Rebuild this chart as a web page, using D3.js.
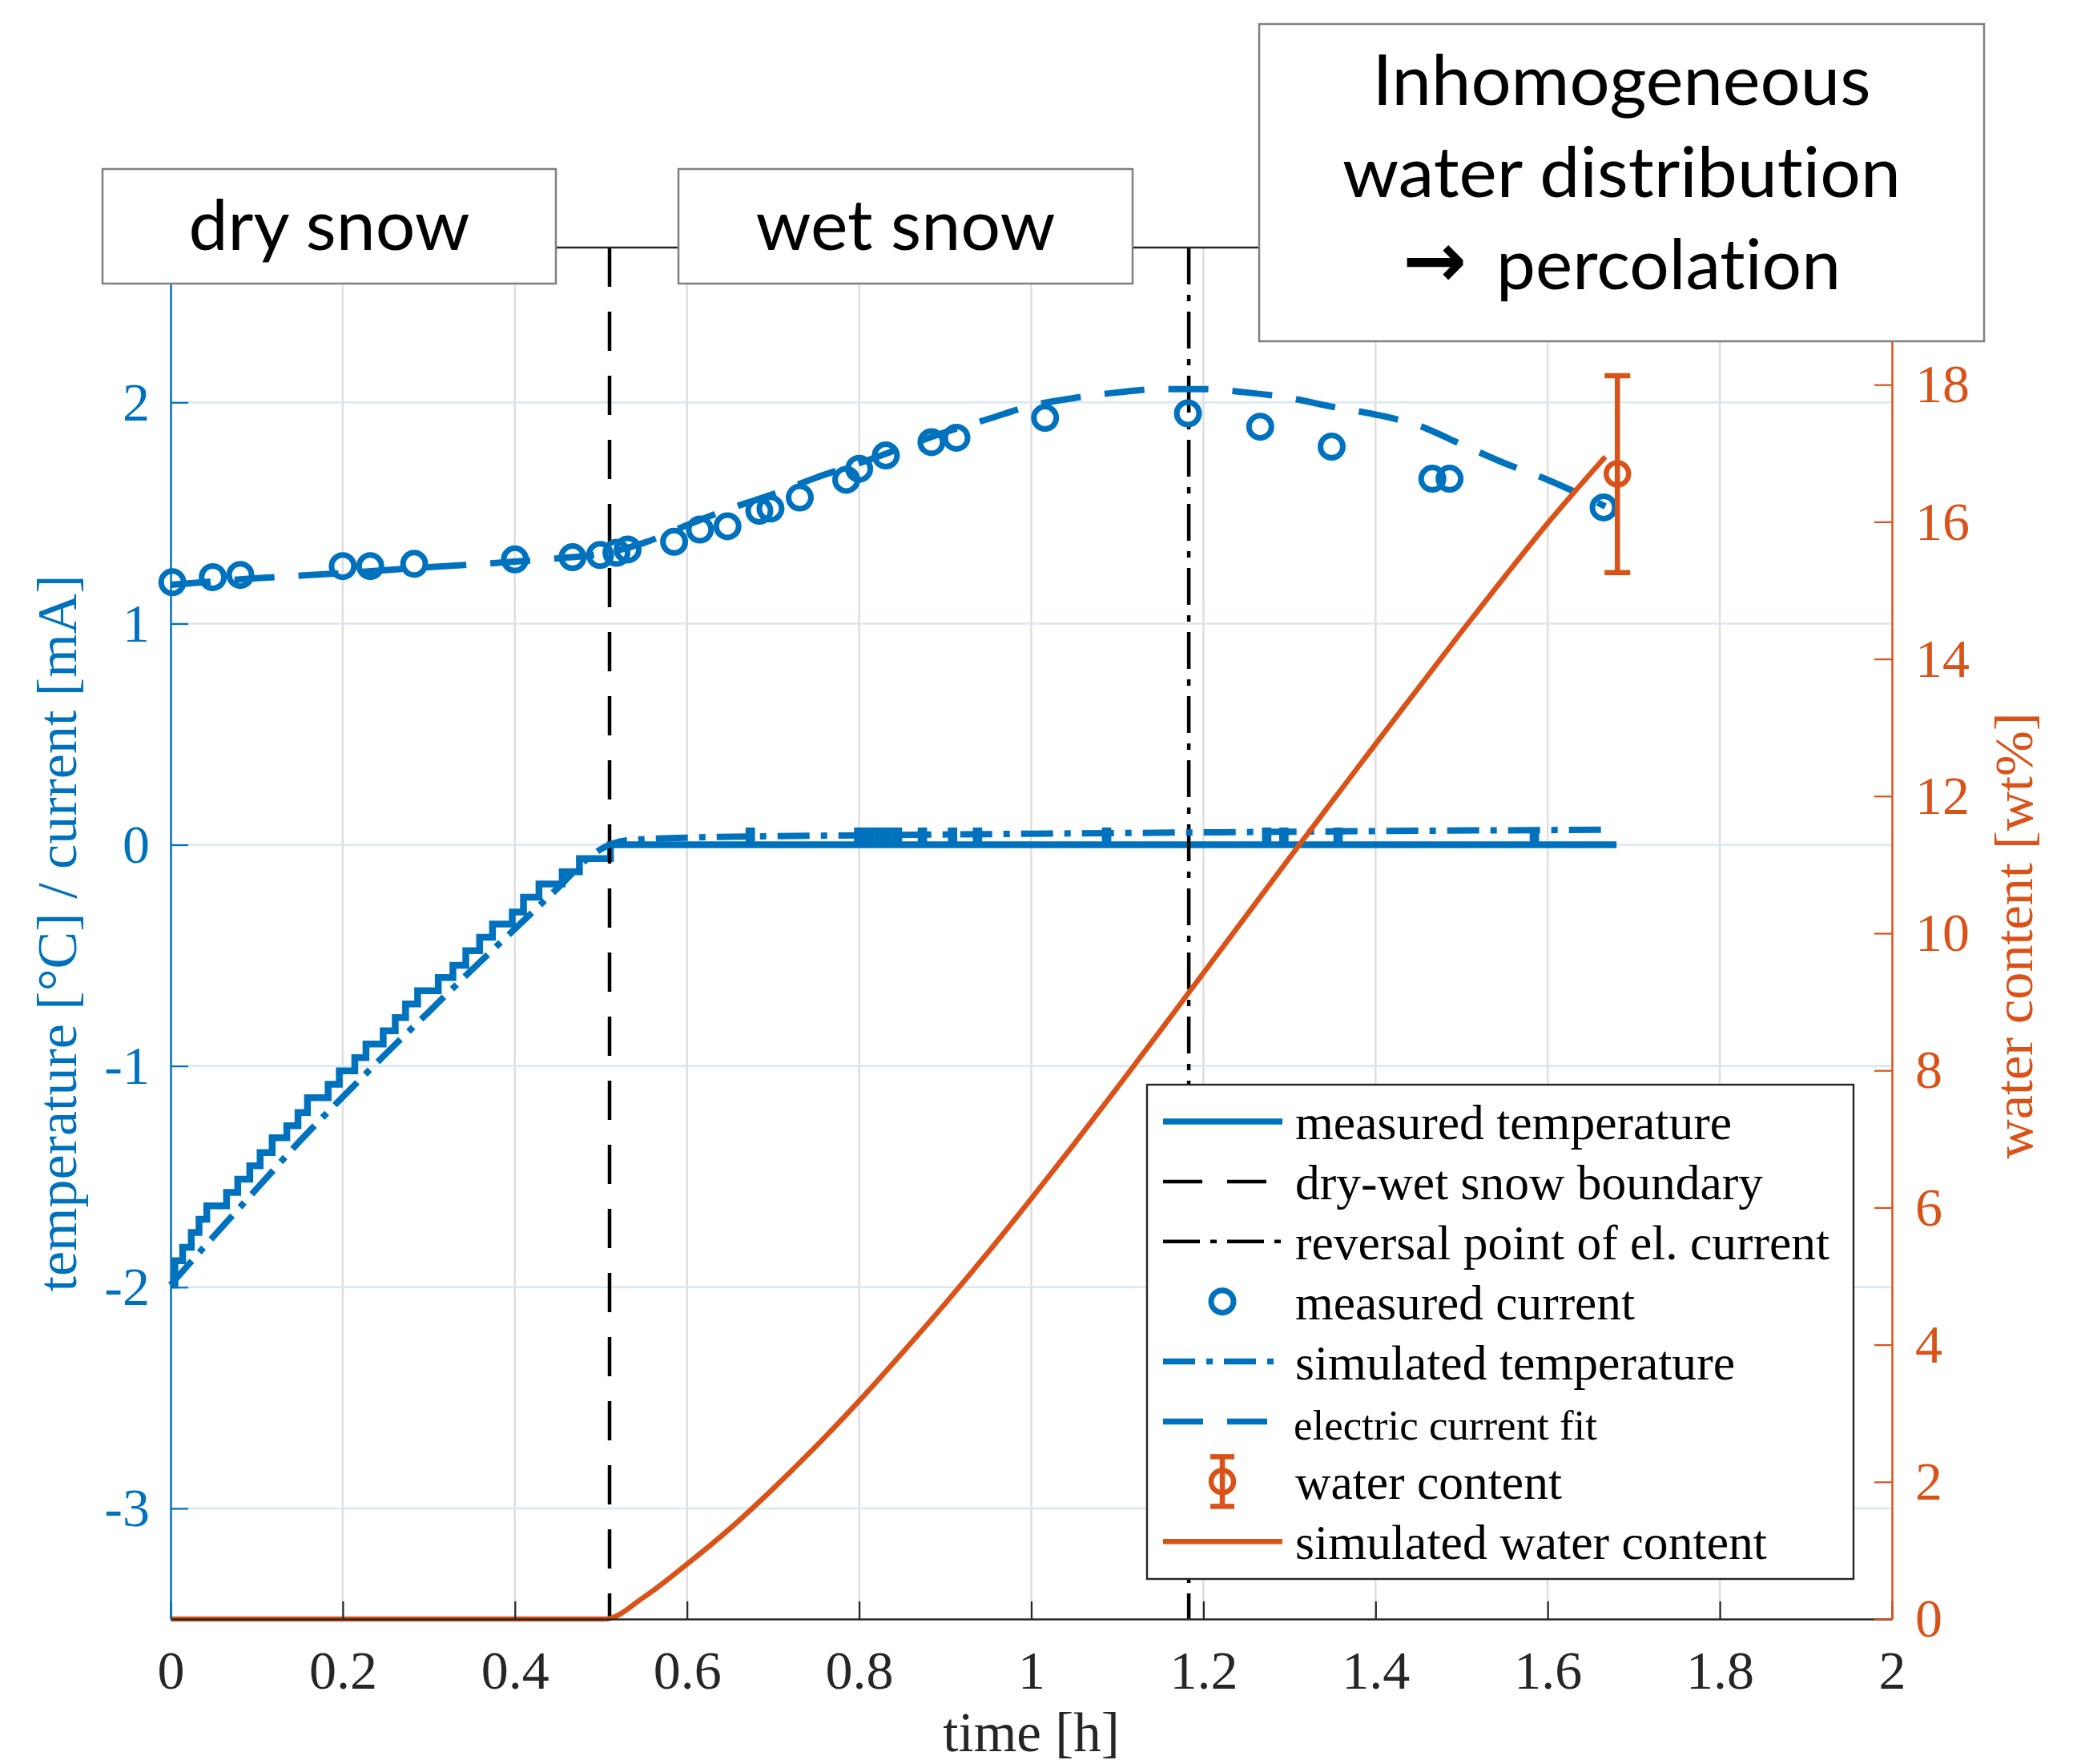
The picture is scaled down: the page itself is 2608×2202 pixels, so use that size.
<!DOCTYPE html>
<html>
<head>
<meta charset="utf-8">
<title>Snow temperature, current and water content</title>
<script src="https://d3js.org/d3.v7.min.js"></script>
<style>
  body { margin: 0; background: #fff; }
  text { font-variant-ligatures: none; font-feature-settings: "liga" 0, "clig" 0; }
</style>
</head>
<body>
<div id="chart"></div>
<script>

// ---------- data ----------
const xTicks = [0, 0.2, 0.4, 0.6, 0.8, 1, 1.2, 1.4, 1.6, 1.8, 2];
const xTickLabels = ["0", "0.2", "0.4", "0.6", "0.8", "1", "1.2", "1.4", "1.6", "1.8", "2"];
const leftTicks = [-3, -2, -1, 0, 1, 2];
const leftTickLabels = ["-3", "-2", "-1", "0", "1", "2"];
const rightTicks = [0, 2, 4, 6, 8, 10, 12, 14, 16, 18, 20];
const rightTickLabels = ["0", "2", "4", "6", "8", "10", "12", "14", "16", "18", "20"];

// measured temperature (sensor steps), then spikes on the 0 plateau
const tempStepTimes = [0, 0.005, 0.014, 0.024, 0.033, 0.042, 0.065, 0.078, 0.092, 0.104, 0.118,
  0.135, 0.148, 0.159, 0.183, 0.196, 0.214, 0.227, 0.247, 0.261, 0.273, 0.287, 0.311, 0.328,
  0.343, 0.359, 0.374, 0.397, 0.410, 0.428, 0.455, 0.475, 0.511];
const tempStepValues = [-1.99, -1.88, -1.82, -1.753, -1.693, -1.632, -1.572, -1.512, -1.451, -1.391,
  -1.324, -1.27, -1.21, -1.143, -1.083, -1.022, -0.962, -0.901, -0.841, -0.781, -0.72, -0.66, -0.6,
  -0.545, -0.479, -0.418, -0.358, -0.304, -0.237, -0.177, -0.122, -0.062, 0];
const tempSpikeTimes = [0.672, 0.798, 0.806, 0.811, 0.822, 0.832, 0.843, 0.872, 0.907, 0.936, 1.086, 1.272, 1.292, 1.355, 1.583];
const tempSpikeValues = [0.0625, 0.0625, 0.0625, 0.0625, 0.0625, 0.0625, 0.0625, 0.0625, 0.0625, 0.0625, 0.0625, 0.0625, 0.0625, 0.0625, 0.0625];
const tempEndTime = 1.68;

// simulated temperature
const simTempTimes = [0, 0.05, 0.1, 0.15, 0.2, 0.25, 0.3, 0.35, 0.4, 0.45, 0.49, 0.51, 0.53, 0.6, 0.8, 1.0, 1.2, 1.4, 1.668];
const simTempValues = [-1.99, -1.77, -1.555, -1.34, -1.14, -0.945, -0.755, -0.565, -0.38, -0.195, -0.045, 0.0, 0.02, 0.032, 0.043, 0.05, 0.056, 0.062, 0.068];

// measured electric current [mA]
const currentTimes = [0.002, 0.049, 0.081, 0.200, 0.232, 0.283, 0.400, 0.467, 0.499, 0.518, 0.531, 0.585, 0.615,
  0.647, 0.684, 0.697, 0.731, 0.785, 0.800, 0.831, 0.884, 0.913, 1.016, 1.182, 1.266, 1.349, 1.466, 1.486, 1.665];
const currentValues = [1.187, 1.21, 1.22, 1.26, 1.26, 1.27, 1.29, 1.30, 1.31, 1.32, 1.335, 1.37, 1.425,
  1.44, 1.51, 1.52, 1.57, 1.65, 1.70, 1.76, 1.82, 1.84, 1.93, 1.95, 1.89, 1.80, 1.655, 1.655, 1.525];

// electric current fit
const fitTimes = [0, 0.1, 0.2, 0.3, 0.4, 0.45, 0.5, 0.55, 0.6, 0.65, 0.7, 0.75, 0.8, 0.85, 0.9, 0.95,
  1.0, 1.05, 1.1, 1.15, 1.2, 1.25, 1.3, 1.35, 1.4, 1.45, 1.5, 1.55, 1.6, 1.667];
const fitValues = [1.175, 1.205, 1.228, 1.255, 1.28, 1.295, 1.315, 1.365, 1.445, 1.52, 1.585, 1.66, 1.725, 1.795, 1.865, 1.925,
  1.985, 2.02, 2.045, 2.06, 2.06, 2.045, 2.02, 1.98, 1.945, 1.895, 1.81, 1.725, 1.65, 1.53];

// simulated water content [wt%]
const waterTimes = [0, 0.505, 0.55, 0.6, 0.65, 0.7, 0.75, 0.8, 0.85, 0.9, 0.95, 1.0, 1.05, 1.1, 1.15,
  1.2, 1.25, 1.3, 1.35, 1.4, 1.45, 1.5, 1.55, 1.6, 1.667];
const waterValues = [0, 0, 0.32, 0.8, 1.32, 1.9, 2.52, 3.18, 3.88, 4.6, 5.35, 6.13, 6.93, 7.75, 8.58,
  9.42, 10.26, 11.1, 11.93, 12.76, 13.58, 14.4, 15.2, 15.98, 16.95];

// measured water content with error bar
const waterMeasTimes = [1.681];
const waterMeasValues = [16.7];
const waterMeasLow = [15.26];
const waterMeasHigh = [18.13];

// dry-wet boundary, reversal point of el. current
const markerTimes = [0.51, 1.183];

const legendLabels = ["measured temperature", "dry-wet snow boundary", "reversal point of el. current",
  "measured current", "simulated temperature", "electric current fit", "water content", "simulated water content"];

const boxLabels = [["dry snow"], ["wet snow"], ["Inhomogeneous", "water distribution", "percolation"]];
const arrowGlyph = "\u2192";

// ---------- layout ----------
const blue = "#0072BD", orange = "#D95319", ink = "#262626";
const serif = "'Liberation Serif', 'Times New Roman', serif";
const sans = "Lato, 'Open Sans', 'DejaVu Sans', sans-serif";

const W = 2608, H = 2202;
const margin = {top: 309, right: 246, bottom: 181, left: 213};
const w = W - margin.left - margin.right;
const h = H - margin.top - margin.bottom;

const svg = d3.select("#chart").append("svg")
    .attr("width", W)
    .attr("height", H)
    .style("background", "#fff");

const g = svg.append("g")
    .attr("transform", "translate(" + margin.left + "," + margin.top + ")");

const x = d3.scaleLinear().domain([0, 2]).range([0, w]);
const yL = d3.scaleLinear().domain([-3.5, 2.7]).range([h, 0]);
const yR = d3.scaleLinear().domain([0, 20]).range([h, 0]);

// grid
g.append("g").selectAll("line")
    .data(xTicks.filter(d => d > 0 && d < 2))
    .join("line")
    .attr("x1", d => x(d)).attr("x2", d => x(d))
    .attr("y1", 0).attr("y2", h)
    .attr("stroke", "#dedede").attr("stroke-width", 2.5);

g.append("g").selectAll("line")
    .data(leftTicks)
    .join("line")
    .attr("x1", 0).attr("x2", w)
    .attr("y1", d => yL(d)).attr("y2", d => yL(d))
    .attr("stroke", "#d8e8f4").attr("stroke-width", 2.5);

// measured temperature
let tempPts = tempStepTimes.map((t, i) => [t, tempStepValues[i]]);
tempSpikeTimes.forEach((t, i) => {
    tempPts.push([t, tempSpikeValues[i]]);
    tempPts.push([t + 0.003, 0]);
});
tempPts.push([tempEndTime, 0]);

g.append("path")
    .datum(tempPts)
    .attr("fill", "none")
    .attr("stroke", blue)
    .attr("stroke-width", 8.5)
    .attr("d", d3.line().x(d => x(d[0])).y(d => yL(d[1])).curve(d3.curveStepAfter));

// black vertical markers
g.append("line")
    .attr("x1", x(markerTimes[0])).attr("x2", x(markerTimes[0]))
    .attr("y1", 0).attr("y2", h)
    .attr("stroke", "#000").attr("stroke-width", 4.5)
    .attr("stroke-dasharray", "49,31");

g.append("line")
    .attr("x1", x(markerTimes[1])).attr("x2", x(markerTimes[1]))
    .attr("y1", 0).attr("y2", h)
    .attr("stroke", "#000").attr("stroke-width", 4.5)
    .attr("stroke-dasharray", "46,13,8,13");

// measured current
g.append("g").selectAll("circle")
    .data(currentTimes)
    .join("circle")
    .attr("cx", d => x(d))
    .attr("cy", (d, i) => yL(currentValues[i]))
    .attr("r", 14)
    .attr("fill", "none")
    .attr("stroke", blue)
    .attr("stroke-width", 7);

// simulated temperature
g.append("path")
    .datum(simTempTimes.map((t, i) => [t, simTempValues[i]]))
    .attr("fill", "none")
    .attr("stroke", blue)
    .attr("stroke-width", 8)
    .attr("stroke-dasharray", "40,14,8,14")
    .attr("d", d3.line().x(d => x(d[0])).y(d => yL(d[1])).curve(d3.curveMonotoneX));

// electric current fit
g.append("path")
    .datum(fitTimes.map((t, i) => [t, fitValues[i]]))
    .attr("fill", "none")
    .attr("stroke", blue)
    .attr("stroke-width", 8)
    .attr("stroke-dasharray", "50,30")
    .attr("d", d3.line().x(d => x(d[0])).y(d => yL(d[1])).curve(d3.curveMonotoneX));

// water content error bar
const eb = g.append("g").selectAll("g")
    .data(waterMeasTimes)
    .join("g");
eb.append("line")
    .attr("x1", d => x(d)).attr("x2", d => x(d))
    .attr("y1", (d, i) => yR(waterMeasLow[i])).attr("y2", (d, i) => yR(waterMeasHigh[i]))
    .attr("stroke", orange).attr("stroke-width", 6.5);
eb.append("line")
    .attr("x1", d => x(d) - 16).attr("x2", d => x(d) + 16)
    .attr("y1", (d, i) => yR(waterMeasLow[i])).attr("y2", (d, i) => yR(waterMeasLow[i]))
    .attr("stroke", orange).attr("stroke-width", 6.5);
eb.append("line")
    .attr("x1", d => x(d) - 16).attr("x2", d => x(d) + 16)
    .attr("y1", (d, i) => yR(waterMeasHigh[i])).attr("y2", (d, i) => yR(waterMeasHigh[i]))
    .attr("stroke", orange).attr("stroke-width", 6.5);
eb.append("circle")
    .attr("cx", d => x(d)).attr("cy", (d, i) => yR(waterMeasValues[i]))
    .attr("r", 14)
    .attr("fill", "none").attr("stroke", orange).attr("stroke-width", 6.5);

// simulated water content
g.append("path")
    .datum(waterTimes.map((t, i) => [t, waterValues[i]]))
    .attr("fill", "none")
    .attr("stroke", orange)
    .attr("stroke-width", 6.5)
    .attr("d", d3.line().x(d => x(d[0])).y(d => yR(d[1])).curve(d3.curveMonotoneX));

// axes
function styleAxis(sel, color) {
    sel.select(".domain").attr("stroke", color).attr("stroke-width", 2.5);
    sel.selectAll(".tick line").attr("stroke", color).attr("stroke-width", 2.2);
    sel.selectAll(".tick text")
        .attr("fill", color)
        .attr("font-family", serif)
        .attr("font-size", 68);
}

let xAxis = d3.axisBottom(x)
    .tickValues(xTicks)
    .tickFormat((d, i) => xTickLabels[i])
    .tickSizeInner(-22).tickSizeOuter(0).tickPadding(39);

g.append("g")
    .attr("transform", "translate(0," + h + ")")
    .call(xAxis)
    .call(s => styleAxis(s, ink));

let yAxisLeft = d3.axisLeft(yL)
    .tickValues(leftTicks)
    .tickFormat((d, i) => leftTickLabels[i])
    .tickSizeInner(-22).tickSizeOuter(0).tickPadding(26);

g.append("g")
    .call(yAxisLeft)
    .call(s => styleAxis(s, blue));

let yAxisRight = d3.axisRight(yR)
    .tickValues(rightTicks)
    .tickFormat((d, i) => rightTickLabels[i])
    .tickSizeInner(-22).tickSizeOuter(0).tickPadding(29);

g.append("g")
    .attr("transform", "translate(" + w + ",0)")
    .call(yAxisRight)
    .call(s => styleAxis(s, orange));

// top border of the box
g.append("line")
    .attr("x1", 0).attr("x2", w).attr("y1", 0).attr("y2", 0)
    .attr("stroke", ink).attr("stroke-width", 2.5);

// axis labels
svg.append("text")
    .attr("x", margin.left + w / 2).attr("y", 2186)
    .attr("text-anchor", "middle")
    .attr("font-family", serif).attr("font-size", 69)
    .attr("fill", ink)
    .text("time [h]");

svg.append("text")
    .attr("transform", "translate(95," + (margin.top + yL(-0.4)) + ") rotate(-90)")
    .attr("text-anchor", "middle")
    .attr("font-family", serif).attr("font-size", 70)
    .attr("textLength", 895).attr("lengthAdjust", "spacingAndGlyphs")
    .attr("fill", blue)
    .text("temperature [\u00B0C] / current [mA]");

svg.append("text")
    .attr("transform", "translate(2537,1168) rotate(-90)")
    .attr("text-anchor", "middle")
    .attr("font-family", serif).attr("font-size", 68)
    .attr("textLength", 557).attr("lengthAdjust", "spacingAndGlyphs")
    .attr("fill", orange)
    .text("water content [wt%]");

// legend
const leg = svg.append("g").attr("transform", "translate(1432,1354)");
leg.append("rect")
    .attr("width", 882).attr("height", 617)
    .attr("fill", "#fff").attr("stroke", ink).attr("stroke-width", 2.4);

const legStyles = [
    {kind: "line", color: blue, width: 7.5, dash: null},
    {kind: "line", color: "#000", width: 4.5, dash: "49,31"},
    {kind: "line", color: "#000", width: 4.5, dash: "46,13,8,13"},
    {kind: "circle", color: blue},
    {kind: "line", color: blue, width: 7.5, dash: "40,14,8,14"},
    {kind: "line", color: blue, width: 7.5, dash: "50,30"},
    {kind: "errorbar", color: orange},
    {kind: "line", color: orange, width: 6.5, dash: null}
];
const legTextLen = [545, 584, 667, 424, 549, 379, 333, 589];
const rowStep = 74.9, row0 = 46;

legendLabels.forEach((label, i) => {
    const cy = row0 + i * rowStep;
    const st = legStyles[i];
    if (st.kind === "line") {
        leg.append("line")
            .attr("x1", 20).attr("x2", 169).attr("y1", cy).attr("y2", cy)
            .attr("stroke", st.color).attr("stroke-width", st.width)
            .attr("stroke-dasharray", st.dash);
    } else if (st.kind === "circle") {
        leg.append("circle")
            .attr("cx", 94).attr("cy", cy).attr("r", 14)
            .attr("fill", "none").attr("stroke", st.color).attr("stroke-width", 7);
    } else {
        leg.append("line").attr("x1", 94).attr("x2", 94).attr("y1", cy - 31).attr("y2", cy + 31)
            .attr("stroke", st.color).attr("stroke-width", 6.5);
        leg.append("line").attr("x1", 79).attr("x2", 109).attr("y1", cy - 31).attr("y2", cy - 31)
            .attr("stroke", st.color).attr("stroke-width", 6.5);
        leg.append("line").attr("x1", 79).attr("x2", 109).attr("y1", cy + 31).attr("y2", cy + 31)
            .attr("stroke", st.color).attr("stroke-width", 6.5);
        leg.append("circle").attr("cx", 94).attr("cy", cy).attr("r", 14)
            .attr("fill", "none").attr("stroke", st.color).attr("stroke-width", 6.5);
    }
    leg.append("text")
        .attr("x", i === 5 ? 183 : 185)
        .attr("y", cy + 22)
        .attr("font-family", serif)
        .attr("font-size", i === 5 ? 53 : 62)
        .attr("textLength", legTextLen[i]).attr("lengthAdjust", "spacingAndGlyphs")
        .attr("fill", "#000")
        .text(label);
});

// annotation boxes
const boxGeom = [
    {x: 128, y: 211, w: 566, h: 143, base: [312], len: [351]},
    {x: 847, y: 211, w: 567, h: 143, base: [312], len: [374]},
    {x: 1572, y: 30, w: 905, h: 396, base: [131, 246, 361], len: [622, 697, 430]}
];

boxGeom.forEach((b, i) => {
    svg.append("rect")
        .attr("x", b.x).attr("y", b.y).attr("width", b.w).attr("height", b.h)
        .attr("fill", "#fff").attr("stroke", "#7f7f7f").attr("stroke-width", 2.5);
    boxLabels[i].forEach((txt, j) => {
        const isArrowLine = (i === 2 && j === 2);
        svg.append("text")
            .attr("x", isArrowLine ? 1868 : b.x + b.w / 2)
            .attr("y", b.base[j])
            .attr("text-anchor", isArrowLine ? "start" : "middle")
            .attr("font-family", sans)
            .attr("font-size", 88)
            .attr("textLength", b.len[j]).attr("lengthAdjust", "spacingAndGlyphs")
            .attr("fill", "#000")
            .text(txt);
        if (isArrowLine) {
            svg.append("text")
                .attr("x", 1791)
                .attr("y", b.base[j] - 3)
                .attr("text-anchor", "middle")
                .attr("font-family", "'DejaVu Sans', sans-serif")
                .attr("font-weight", "bold")
                .attr("font-size", 96)
                .attr("textLength", 80).attr("lengthAdjust", "spacingAndGlyphs")
                .attr("fill", "#000")
                .text(arrowGlyph);
        }
    });
});

</script>
</body>
</html>
